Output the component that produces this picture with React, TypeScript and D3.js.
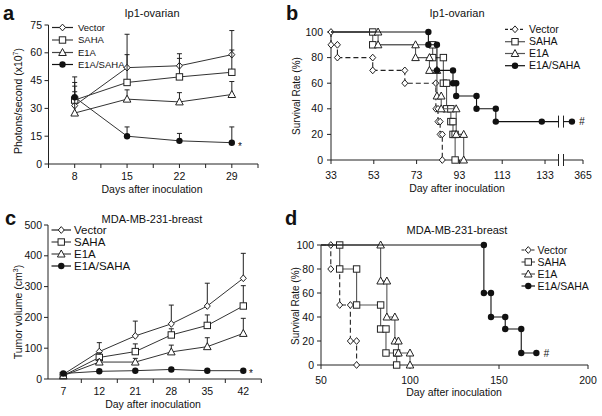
import React from "react";
import * as d3 from "d3";

const FONT = "'Liberation Sans', Arial, Helvetica, sans-serif";

// ---- panel a: Ip1-ovarian photons ----
const daysA = [8, 15, 22, 29];
const vectorA = [31.5, 52, 53, 59];
const vectorASd = [12.5, 18, 6.5, 13];
const sahaA = [34.5, 44, 47, 49.5];
const sahaASd = [12.5, 15, 10, 12];
const e1aA = [27.5, 35, 33.5, 37.5];
const e1aASd = [11.5, 5, 5, 7];
const comboA = [36, 15, 12.5, 11.5];
const comboASd = [6, 5, 4, 8.5];
const yTicksA = [0, 15, 30, 45, 60, 75];

// ---- panel c: MDA-MB-231 tumor volume ----
const daysC = ["7", "12", "21", "28", "35", "42"];
const vectorC = [15, 89, 140, 179, 237, 327];
const vectorCSd = [3, 29, 48, 61, 74, 81];
const sahaC = [11, 70, 89, 143, 174, 237];
const sahaCSd = [3, 15, 25, 20, 34, 66];
const e1aC = [11, 55, 55, 88, 105, 148];
const e1aCSd = [3, 8, 12, 22, 29, 49];
const comboC = [18, 25, 27, 31, 27, 27];
const comboCSd = [3, 3, 3, 4, 3, 3];
const yTicksC = [0, 100, 200, 300, 400, 500];

// ---- panel b: Ip1-ovarian survival ----
const vectorBTimes = [33, 36, 52.5, 67.5, 82, 83, 84, 85];
const vectorBSurv = [90, 80, 70, 60, 40, 30, 20, 0];
const sahaBTimes = [52.5, 80.5, 85.5, 87, 89, 90, 91];
const sahaBSurv = [90, 80, 60, 40, 30, 20, 0];
const e1aBTimes = [55, 72.5, 79, 82.5, 84.5, 91.5, 95];
const e1aBSurv = [90, 80, 70, 50, 40, 20, 0];
const comboBTimes = [78.5, 82.5, 90, 91.5, 101, 110];
const comboBSurv = [90, 70, 60, 50, 40, 30];
const comboBCensor = [131.5];
const comboBAfterBreak = 356.5;
const xTicksB = [33, 53, 73, 93, 113, 133];
const survTicks = [0, 20, 40, 60, 80, 100];

// ---- panel d: MDA-MB-231 survival ----
const vectorDTimes = [55.5, 60.5, 66.5, 70];
const vectorDSurv = [80, 50, 20, 0];
const sahaDTimes = [60.5, 70, 83.5, 86.5, 92.5];
const sahaDSurv = [80, 50, 30, 10, 0];
const e1aDTimes = [83.5, 87, 91.5, 93.5, 100];
const e1aDSurv = [70, 40, 20, 10, 0];
const comboDTimes = [141.5, 145.5, 153.5, 162.5];
const comboDSurv = [60, 40, 30, 10];
const comboDEnd = 171;
const xTicksD = [50, 100, 150, 200];

const names = ["Vector", "SAHA", "E1A", "E1A/SAHA"];
const shapes = ["diamond", "square", "triangle", "circle"];

const Marker = ({ kind, x, y, stroke = "#222" }) => {
  if (kind === "circle") return <circle cx={x} cy={y} r={3.2} fill="#111" />;
  if (kind === "square")
    return <rect x={x - 3.2} y={y - 3.2} width={6.4} height={6.4} fill="#fff" stroke={stroke} strokeWidth={1} />;
  if (kind === "triangle")
    return (
      <polygon
        points={`${x},${y - 4} ${x - 3.8},${y + 3} ${x + 3.8},${y + 3}`}
        fill="#fff"
        stroke={stroke}
        strokeWidth={1}
      />
    );
  return (
    <polygon
      points={`${x},${y - 3.4} ${x + 3},${y} ${x},${y + 3.4} ${x - 3},${y}`}
      fill="#fff"
      stroke={stroke}
      strokeWidth={1}
    />
  );
};

const YAxis = ({ x, scale, ticks, labelX, size = 10.5 }) => (
  <g>
    <line x1={x} x2={x} y1={scale(ticks[0])} y2={scale(ticks[ticks.length - 1])} stroke="#222" />
    {ticks.map((t) => (
      <g key={t}>
        <line x1={x - 4} x2={x} y1={scale(t)} y2={scale(t)} stroke="#222" />
        <text x={labelX} y={scale(t)} dy="0.35em" textAnchor="end" fontSize={size}>
          {t}
        </text>
      </g>
    ))}
  </g>
);

const Legend = ({ x0, x1, tx, ys, size, colors, dashed = false }) => (
  <g>
    {names.map((n, i) => (
      <g key={n}>
        <line
          x1={x0}
          x2={x1}
          y1={ys[i]}
          y2={ys[i]}
          stroke={colors[i]}
          strokeWidth={1.2}
          strokeDasharray={dashed && i === 0 ? "3,2" : undefined}
        />
        <Marker kind={shapes[i]} x={(x0 + x1) / 2} y={ys[i]} />
        <text x={tx} y={ys[i]} dy="0.35em" fontSize={size}>
          {n}
        </text>
      </g>
    ))}
  </g>
);

const LineSeries = ({ xs, vals, sds, y, kind }) => {
  const line = d3
    .line()
    .x((d) => d[0])
    .y((d) => d[1]);
  const pts = vals.map((v, i) => [xs[i], y(v)]);
  return (
    <g>
      {vals.map((v, i) => (
        <g key={i} stroke="#222">
          <line x1={xs[i]} x2={xs[i]} y1={y(v)} y2={y(v + sds[i])} />
          <line x1={xs[i] - 2.5} x2={xs[i] + 2.5} y1={y(v + sds[i])} y2={y(v + sds[i])} />
        </g>
      ))}
      <path d={line(pts)} fill="none" stroke="#333" strokeWidth={1} />
      {pts.map((p, i) => (
        <Marker key={i} kind={kind} x={p[0]} y={p[1]} />
      ))}
    </g>
  );
};

const StepSeries = ({ start, times, surv, end, x, y, kind, color, dashed }) => {
  const pts = [[start, 100]];
  const marks = [];
  let prev = 100;
  times.forEach((t, i) => {
    pts.push([t, prev], [t, surv[i]]);
    marks.push([t, prev], [t, surv[i]]);
    prev = surv[i];
  });
  if (end !== undefined) {
    pts.push([end[0], prev]);
    if (end[1]) marks.push([end[0], prev]);
  }
  const line = d3
    .line()
    .x((d) => x(d[0]))
    .y((d) => y(d[1]));
  return (
    <g>
      <path
        d={line(pts)}
        fill="none"
        stroke={color}
        strokeWidth={1.1}
        strokeDasharray={dashed ? "5,3" : undefined}
      />
      {marks.map((m, i) => (
        <Marker key={i} kind={kind} x={x(m[0])} y={y(m[1])} />
      ))}
    </g>
  );
};

const PanelA = () => {
  const x = d3.scaleLinear().domain([4.5, 32.5]).range([48.5, 258]);
  const y = d3.scaleLinear().domain([0, 75]).range([164, 25]);
  const xs = daysA.map((d) => x(d));
  const minor = d3.range(4.5, 32.6, 3.5);
  const series = [
    [vectorA, vectorASd],
    [sahaA, sahaASd],
    [e1aA, e1aASd],
    [comboA, comboASd],
  ];
  return (
    <g>
      <text x={3} y={20} fontSize={20} fontWeight="bold">a</text>
      <text x={152} y={17} fontSize={11} textAnchor="middle">Ip1-ovarian</text>
      <YAxis x={48.5} scale={y} ticks={yTicksA} labelX={42} />
      <line x1={48.5} x2={258} y1={164} y2={164} stroke="#222" />
      {minor.map((t) => (
        <line key={t} x1={x(t)} x2={x(t)} y1={164} y2={168} stroke="#222" />
      ))}
      {daysA.map((d) => (
        <text key={d} x={x(d)} y={180} fontSize={10.5} textAnchor="middle">{d}</text>
      ))}
      <text x={152} y={193} fontSize={10.5} textAnchor="middle">Days after inoculation</text>
      <text transform="translate(22,101) rotate(-90)" fontSize={10.5} textAnchor="middle">
        Photons/second (x10<tspan fontSize={7} dy={-4}>7</tspan><tspan dy={4}>)</tspan>
      </text>
      {series.map((s, i) => (
        <LineSeries key={i} xs={xs} vals={s[0]} sds={s[1]} y={y} kind={shapes[i]} />
      ))}
      <text x={238} y={150} fontSize={10}>*</text>
      <Legend x0={52} x1={73} tx={78} ys={[27.5, 40, 52.5, 64.5]} size={9.5} colors={["#222", "#444", "#444", "#111"]} />
    </g>
  );
};

const PanelC = () => {
  const x = d3.scaleBand().domain(daysC).range([45.3, 261.3]);
  const bw = x.bandwidth();
  const y = d3.scaleLinear().domain([0, 500]).range([379, 225]);
  const xs = daysC.map((d) => x(d) + bw / 2);
  const series = [
    [vectorC, vectorCSd],
    [sahaC, sahaCSd],
    [e1aC, e1aCSd],
    [comboC, comboCSd],
  ];
  return (
    <g>
      <text x={5} y={225} fontSize={20} fontWeight="bold">c</text>
      <text x={152} y={223} fontSize={11} textAnchor="middle">MDA-MB-231-breast</text>
      <YAxis x={48} scale={y} ticks={yTicksC} labelX={42} />
      <line x1={48} x2={261.3} y1={379} y2={379} stroke="#222" />
      {daysC.slice(1).map((d) => (
        <line key={d} x1={x(d)} x2={x(d)} y1={379} y2={383} stroke="#222" />
      ))}
      <line x1={261.3} x2={261.3} y1={379} y2={383} stroke="#222" />
      {daysC.map((d, i) => (
        <text key={d} x={xs[i]} y={395} fontSize={10.5} textAnchor="middle">{d}</text>
      ))}
      <text x={153} y={408} fontSize={10.5} textAnchor="middle">Day after inoculation</text>
      <text transform="translate(22,312) rotate(-90)" fontSize={10.5} textAnchor="middle">
        Tumor volume (cm<tspan fontSize={7} dy={-4}>3</tspan><tspan dy={4}>)</tspan>
      </text>
      {series.map((s, i) => (
        <LineSeries key={i} xs={xs} vals={s[0]} sds={s[1]} y={y} kind={shapes[i]} />
      ))}
      <text x={249} y={377} fontSize={10}>*</text>
      <Legend x0={51.5} x1={71} tx={74} ys={[230, 242, 254, 266]} size={11.5} colors={["#222", "#444", "#444", "#111"]} />
    </g>
  );
};

const PanelB = () => {
  const x = d3.scaleLinear().domain([33, 139.3]).range([331, 558.5]);
  const x2 = d3.scaleLinear().domain([350, 365]).range([563.5, 583]);
  const y = d3.scaleLinear().domain([0, 100]).range([160, 32]);
  const lastY = y(comboBSurv[comboBSurv.length - 1]);
  return (
    <g>
      <text x={286} y={20} fontSize={20} fontWeight="bold">b</text>
      <text x={457} y={17} fontSize={11} textAnchor="middle">Ip1-ovarian</text>
      <YAxis x={331} scale={y} ticks={survTicks} labelX={323} />
      <line x1={331} x2={558.5} y1={160} y2={160} stroke="#222" />
      <line x1={563.5} x2={583} y1={160} y2={160} stroke="#222" />
      {xTicksB.map((t) => (
        <g key={t}>
          <line x1={x(t)} x2={x(t)} y1={160} y2={164} stroke="#222" />
          <text x={x(t)} y={178.5} fontSize={10.5} textAnchor="middle">{t}</text>
        </g>
      ))}
      <line x1={x2(365)} x2={x2(365)} y1={160} y2={164} stroke="#222" />
      <text x={x2(365)} y={178.5} fontSize={10.5} textAnchor="middle">365</text>
      {[558.5, 563.5].map((bx) => (
        <g key={bx} stroke="#222">
          <line x1={bx} x2={bx} y1={154} y2={166} />
          <line x1={bx} x2={bx} y1={lastY - 6} y2={lastY + 6} />
        </g>
      ))}
      <text x={457} y={192} fontSize={10.5} textAnchor="middle">Day after inoculation</text>
      <text transform="translate(300,96) rotate(-90)" fontSize={10} textAnchor="middle">Survival Rate (%)</text>
      <StepSeries start={33} times={vectorBTimes} surv={vectorBSurv} x={x} y={y} kind="diamond" color="#222" dashed />
      <StepSeries start={33} times={sahaBTimes} surv={sahaBSurv} x={x} y={y} kind="square" color="#555" />
      <StepSeries start={33} times={e1aBTimes} surv={e1aBSurv} x={x} y={y} kind="triangle" color="#555" />
      <StepSeries start={33} times={comboBTimes} surv={comboBSurv} end={[139.3, false]} x={x} y={y} kind="circle" color="#111" />
      {comboBCensor.map((t) => (
        <Marker key={t} kind="circle" x={x(t)} y={lastY} />
      ))}
      <line x1={563.5} x2={x2(comboBAfterBreak)} y1={lastY} y2={lastY} stroke="#111" strokeWidth={1.1} />
      <Marker kind="circle" x={x2(comboBAfterBreak)} y={lastY} />
      <text x={579} y={lastY} dy="0.35em" fontSize={10} fontStyle="italic">#</text>
      <Legend x0={505} x1={525} tx={529} ys={[29.3, 41.7, 53.5, 65.7]} size={10.5} colors={["#222", "#555", "#555", "#111"]} dashed />
    </g>
  );
};

const PanelD = () => {
  const x = d3.scaleLinear().domain([50, 200]).range([321, 588]);
  const y = d3.scaleLinear().domain([0, 100]).range([365, 245]);
  return (
    <g>
      <text x={285} y={225} fontSize={20} fontWeight="bold">d</text>
      <text x={457} y={234} fontSize={11} textAnchor="middle">MDA-MB-231-breast</text>
      <YAxis x={321} scale={y} ticks={survTicks} labelX={314} />
      <line x1={321} x2={588} y1={365} y2={365} stroke="#222" />
      {xTicksD.map((t) => (
        <g key={t}>
          <line x1={x(t)} x2={x(t)} y1={365} y2={369} stroke="#222" />
          <text x={x(t)} y={383.5} fontSize={10.5} textAnchor="middle">{t}</text>
        </g>
      ))}
      <text x={454} y={396} fontSize={10.5} textAnchor="middle">Day after inoculation</text>
      <text transform="translate(299,306) rotate(-90)" fontSize={10} textAnchor="middle">Survival Rate (%)</text>
      <StepSeries start={50} times={vectorDTimes} surv={vectorDSurv} x={x} y={y} kind="diamond" color="#222" dashed />
      <StepSeries start={50} times={sahaDTimes} surv={sahaDSurv} x={x} y={y} kind="square" color="#555" />
      <StepSeries start={50} times={e1aDTimes} surv={e1aDSurv} x={x} y={y} kind="triangle" color="#555" />
      <StepSeries start={50} times={comboDTimes} surv={comboDSurv} end={[comboDEnd, true]} x={x} y={y} kind="circle" color="#111" />
      <text x={x(comboDEnd) + 7} y={y(10)} dy="0.35em" fontSize={10} fontStyle="italic">#</text>
      <Legend x0={521.5} x1={535} tx={537.5} ys={[250, 262, 274, 286]} size={10.5} colors={["#222", "#555", "#555", "#111"]} dashed />
    </g>
  );
};

export default function App() {
  return (
    <svg
      width={602}
      height={416}
      style={{ position: "absolute", left: 0, top: 0, background: "#fff" }}
      fontFamily={FONT}
      fill="#111"
    >
      <rect width={602} height={416} fill="#fff" />
      <PanelA />
      <PanelB />
      <PanelC />
      <PanelD />
    </svg>
  );
}
